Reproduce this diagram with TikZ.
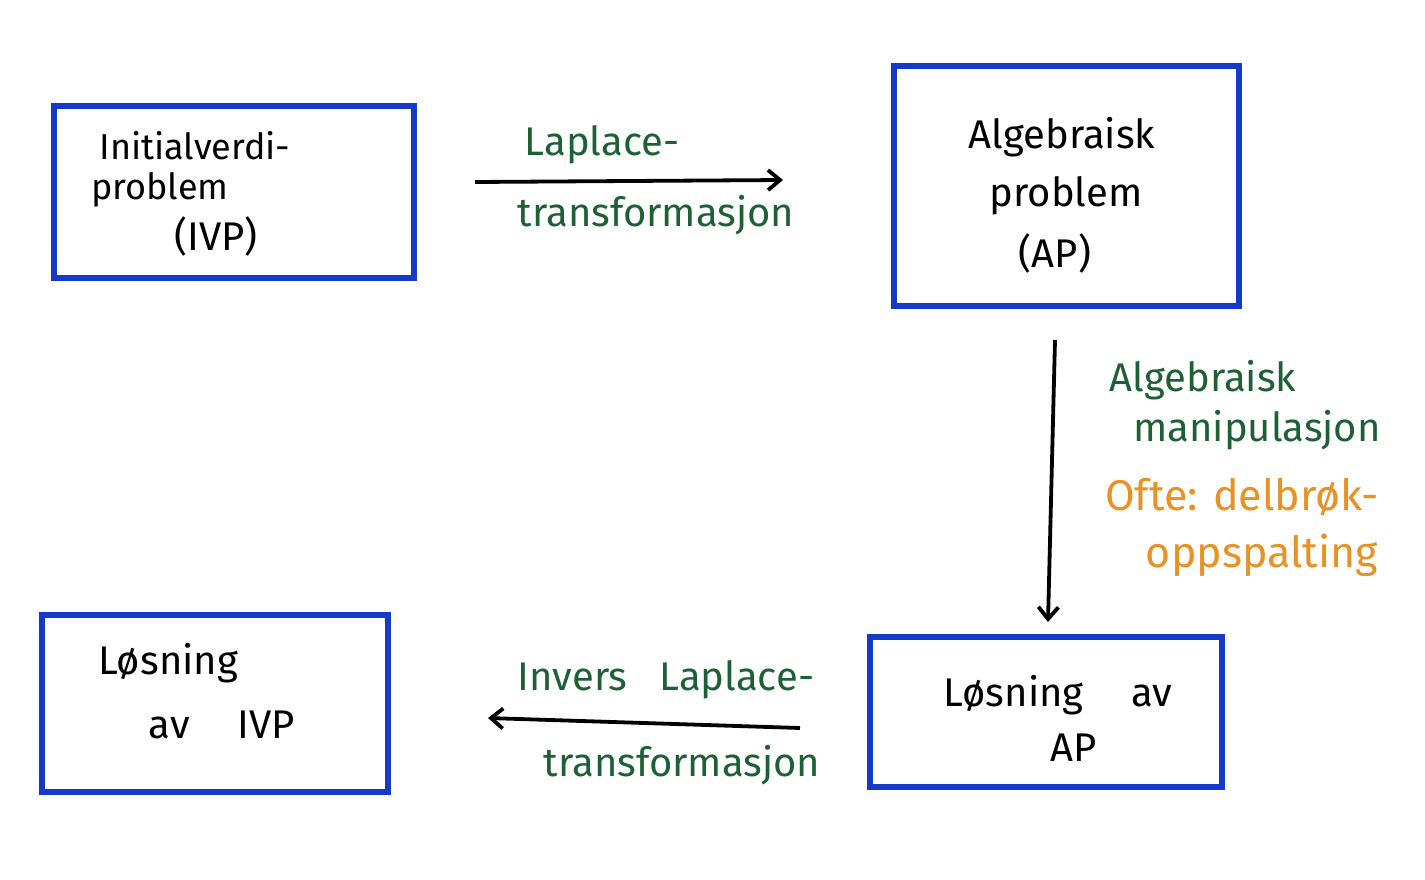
\documentclass[tikz,border=0pt]{standalone}
\usepackage{fontspec}
\setmainfont{Fira Sans}
\usetikzlibrary{arrows.meta}
\definecolor{boxblue}{RGB}{22,58,200}
\definecolor{labgreen}{RGB}{28,96,52}
\definecolor{laborange}{RGB}{232,146,38}
\tikzset{
  box/.style={draw=boxblue, line width=3pt, rectangle, inner sep=0pt},
  boxtxt/.style={text=black, inner sep=0pt, font=\fontsize{20}{22}\selectfont},
  smalltxt/.style={text=black, inner sep=0pt, font=\fontsize{18}{20}\selectfont},
  gtxt/.style={text=labgreen, inner sep=0pt, font=\fontsize{20}{22}\selectfont},
  otxt/.style={text=laborange, inner sep=0pt, font=\fontsize{21.5}{24}\selectfont},
  conn/.style={draw=black, line width=1.9pt, -{Straight Barb[length=6pt,width=10pt,line width=1.9pt]}}
}
\begin{document}
\begin{tikzpicture}[x=0.5pt,y=-0.5pt]
\useasboundingbox (0,0) rectangle (1425,879);
% boxes
\node[box, minimum width=180pt, minimum height=86pt] (ivp) at (234,192) {};
\node[box, minimum width=172.5pt, minimum height=120pt] (ap) at (1066,186) {};
\node[box, minimum width=176pt, minimum height=75pt] (lap) at (1046,712) {};
\node[box, minimum width=173pt, minimum height=88.5pt] (livp) at (215,703) {};
% box texts
\node[smalltxt] (t1) at (195,146) {Initialverdi-};
\node[smalltxt] (t2) at (160,190) {problem};
\node[boxtxt] (t3) at (216,236) {(IVP)};
\node[boxtxt] (t4) at (1062,137) {Algebraisk};
\node[boxtxt] (t5) at (1066,196) {problem};
\node[boxtxt] (t6) at (1055,253) {(AP)};
\node[boxtxt] (t7) at (1058,695) {Løsning\hspace{1.2em}av};
\node[boxtxt] (t8) at (1074,748) {AP};
\node[boxtxt] (t9) at (168,663) {Løsning};
\node[boxtxt] (t10) at (222,725) {av\hspace{1.2em}IVP};
% arrow end points
\coordinate (a1s) at (475,182);
\coordinate (a1e) at (783,180);
\coordinate (a2s) at (1055,340);
\coordinate (a2e) at (1048,622);
\coordinate (a3s) at (800,728);
\coordinate (a3e) at (488,718);
\draw[conn] (a1s) -- (a1e);
\draw[conn] (a2s) -- (a2e);
\draw[conn] (a3s) -- (a3e);
% labels
\node[gtxt] (l1) at (602,145) {Laplace-};
\node[gtxt] (l2) at (656,215) {transformasjon};
\node[gtxt] (l3) at (1203,380) {Algebraisk};
\node[gtxt] (l4) at (1257,430) {manipulasjon};
\node[otxt] (l5) at (1242,497) {Ofte: delbrøk-};
\node[otxt] (l6) at (1262,555) {oppspalting};
\node[gtxt] (l7) at (666,680) {Invers\hspace{0.8em}Laplace-};
\node[gtxt] (l8) at (682,765) {transformasjon};
\end{tikzpicture}
\end{document}
